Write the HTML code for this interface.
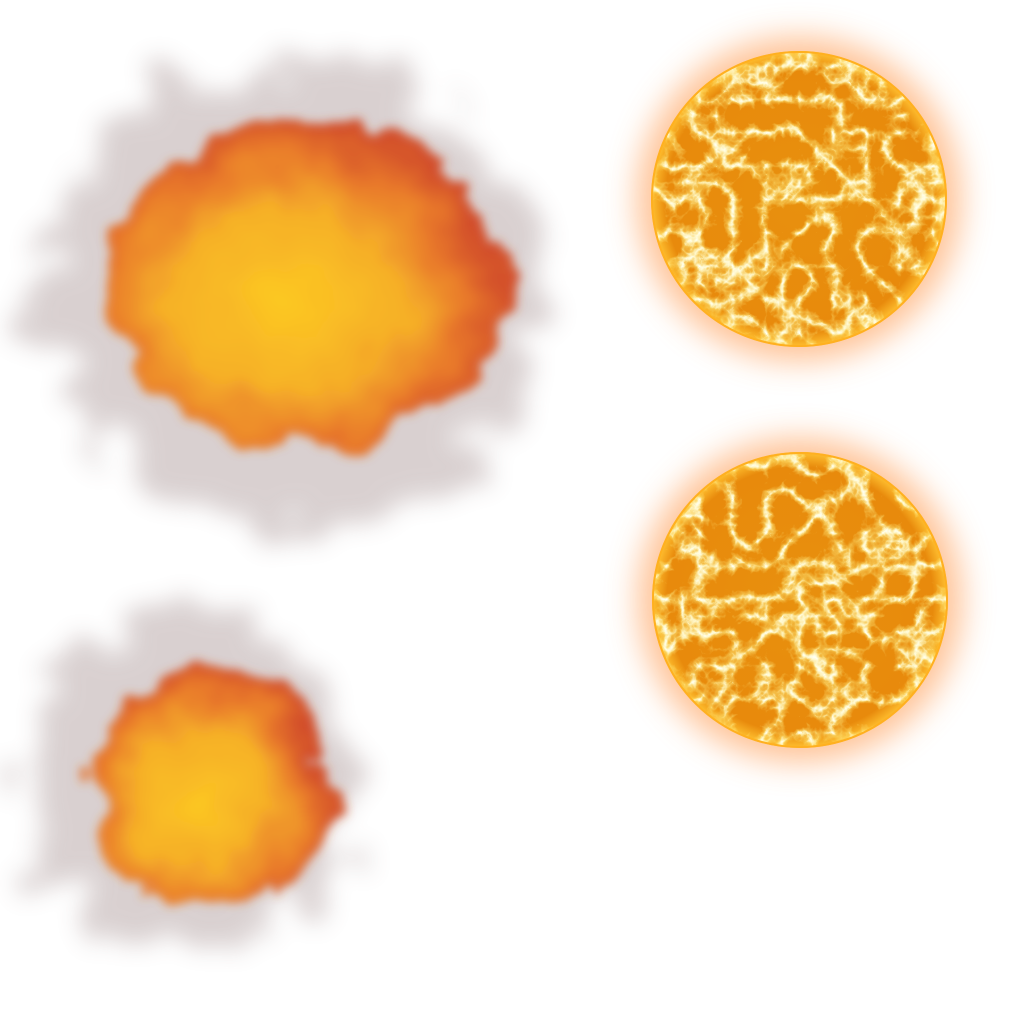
<!DOCTYPE html>
<html><head><meta charset="utf-8"><style>
html,body{margin:0;padding:0;background:#fff;width:1024px;height:1024px;overflow:hidden}
</style></head><body>
<svg width="1024" height="1024" viewBox="0 0 1024 1024" xmlns="http://www.w3.org/2000/svg">
<defs>
  <filter id="smoke" x="-30%" y="-30%" width="160%" height="160%">
    <feTurbulence type="fractalNoise" baseFrequency="0.02" numOctaves="4" seed="3" result="n"/>
    <feDisplacementMap in="SourceGraphic" in2="n" scale="120" xChannelSelector="R" yChannelSelector="G"/>
    <feGaussianBlur stdDeviation="12"/>
  </filter>
  <filter id="flame" x="-30%" y="-30%" width="160%" height="160%">
    <feTurbulence type="fractalNoise" baseFrequency="0.018" numOctaves="3" seed="8" result="n"/>
    <feDisplacementMap in="SourceGraphic" in2="n" scale="60" xChannelSelector="R" yChannelSelector="G"/>
    <feGaussianBlur stdDeviation="5"/>
  </filter>
  <filter id="glow" x="-40%" y="-40%" width="180%" height="180%">
    <feGaussianBlur stdDeviation="16"/>
  </filter>
  <filter id="veinsW" x="0" y="0" width="100%" height="100%">
    <feTurbulence type="turbulence" baseFrequency="0.03" numOctaves="4" seed="5" result="t"/>
    <feColorMatrix in="t" type="matrix" values="0 0 0 0 1  0 0 0 0 1  0 0 0 0 0.9  -5 0 0 0 1.1" result="c"/>
    <feComposite in="c" in2="SourceGraphic" operator="in"/>
  </filter>
  <filter id="veinsY" x="0" y="0" width="100%" height="100%">
    <feTurbulence type="turbulence" baseFrequency="0.03" numOctaves="4" seed="5" result="t"/>
    <feColorMatrix in="t" type="matrix" values="0 0 0 0 1  0 0 0 0 0.82  0 0 0 0 0.2  -3 0 0 0 1.2" result="c"/>
    <feComposite in="c" in2="SourceGraphic" operator="in"/>
  </filter>
  <filter id="veinsW2" x="0" y="0" width="100%" height="100%">
    <feTurbulence type="turbulence" baseFrequency="0.03" numOctaves="4" seed="11" result="t"/>
    <feColorMatrix in="t" type="matrix" values="0 0 0 0 1  0 0 0 0 1  0 0 0 0 0.9  -5 0 0 0 1.1" result="c"/>
    <feComposite in="c" in2="SourceGraphic" operator="in"/>
  </filter>
  <filter id="veinsY2" x="0" y="0" width="100%" height="100%">
    <feTurbulence type="turbulence" baseFrequency="0.03" numOctaves="4" seed="11" result="t"/>
    <feColorMatrix in="t" type="matrix" values="0 0 0 0 1  0 0 0 0 0.82  0 0 0 0 0.2  -3 0 0 0 1.2" result="c"/>
    <feComposite in="c" in2="SourceGraphic" operator="in"/>
  </filter>
  <radialGradient id="fireG" cx="0.45" cy="0.55" r="0.55">
    <stop offset="0" stop-color="#fcc822"/>
    <stop offset="0.5" stop-color="#f6b028"/>
    <stop offset="0.8" stop-color="#e8782c"/>
    <stop offset="1" stop-color="#d24e2a"/>
  </radialGradient>
  <radialGradient id="sunG" cx="0.5" cy="0.5" r="0.5">
    <stop offset="0" stop-color="#e8900e"/>
    <stop offset="0.9" stop-color="#e88a0c"/>
    <stop offset="1" stop-color="#ffc030"/>
  </radialGradient>
</defs>

<g>
  <ellipse cx="295" cy="295" rx="250" ry="235" fill="#8a7070" opacity="0.32" filter="url(#smoke)"/>
  <g filter="url(#flame)">
    <ellipse cx="305" cy="285" rx="200" ry="162" fill="url(#fireG)"/>
  </g>
</g>

<g>
  <ellipse cx="190" cy="780" rx="165" ry="165" fill="#8a7070" opacity="0.32" filter="url(#smoke)"/>
  <g filter="url(#flame)">
    <ellipse cx="212" cy="790" rx="118" ry="120" fill="url(#fireG)"/>
  </g>
</g>

<g>
  <circle cx="799" cy="199" r="162" fill="#ff9a50" opacity="0.6" filter="url(#glow)"/>
  <circle cx="799" cy="199" r="148" fill="url(#sunG)"/>
  <circle cx="799" cy="199" r="147" fill="#fff" filter="url(#veinsY)"/>
  <circle cx="799" cy="199" r="147" fill="#fff" filter="url(#veinsW)"/>
  <circle cx="799" cy="199" r="147" fill="none" stroke="#ffb020" stroke-width="2"/>
</g>

<g>
  <circle cx="800" cy="600" r="162" fill="#ff9a50" opacity="0.6" filter="url(#glow)"/>
  <circle cx="800" cy="600" r="148" fill="url(#sunG)"/>
  <circle cx="800" cy="600" r="147" fill="#fff" filter="url(#veinsY2)"/>
  <circle cx="800" cy="600" r="147" fill="#fff" filter="url(#veinsW2)"/>
  <circle cx="800" cy="600" r="147" fill="none" stroke="#ffb020" stroke-width="2"/>
</g>
</svg>
</body></html>
